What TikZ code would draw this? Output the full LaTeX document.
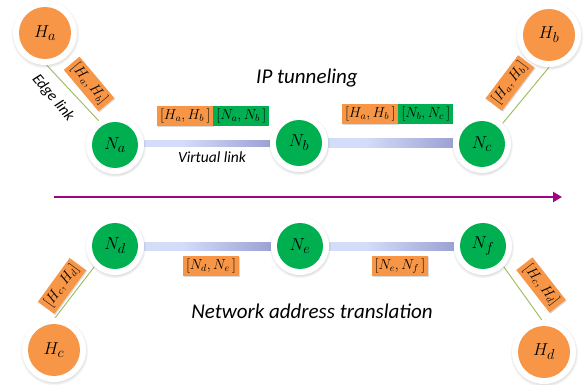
\documentclass[tikz,border=0pt]{standalone}
\usepackage{fontspec}
\setmainfont{Carlito}
\usetikzlibrary{shadows,arrows.meta,calc}
\definecolor{hor}{HTML}{F79646}
\definecolor{ngr}{HTML}{00B050}
\definecolor{elink}{HTML}{9BBB59}
\definecolor{arr}{HTML}{A0037F}
\definecolor{vg}{HTML}{98AE9E}
\definecolor{vl}{HTML}{D3DCF8}
\definecolor{vd}{HTML}{7478BA}
\pgfdeclarehorizontalshading{vlink}{100bp}{color(0bp)=(vg); color(18bp)=(vl); color(40bp)=(vl); color(100bp)=(vd)}
\pgfdeclarelayer{bg}
\pgfsetlayers{bg,main}
\tikzset{
  host/.style={circle, fill=white, minimum size=64pt, inner sep=0pt,
    circular drop shadow={shadow xshift=0pt, shadow yshift=-1pt, shadow scale=1.07, opacity=0.35},
    path picture={\fill[hor] (path picture bounding box.center) circle (26pt);},
    font=\fontsize{19}{21}\selectfont},
  router/.style={circle, fill=white, minimum size=58pt, inner sep=0pt,
    circular drop shadow={shadow xshift=0pt, shadow yshift=-1pt, shadow scale=1.07, opacity=0.35},
    path picture={\fill[ngr] (path picture bounding box.center) circle (23pt);},
    font=\fontsize{19}{21}\selectfont},
  tagbox/.style={inner xsep=3pt, inner ysep=2.5pt, outer sep=0pt, text height=11pt, text depth=4.5pt,
    font=\fontsize{14}{16}\selectfont},
  obox/.style={tagbox, fill=hor, drop shadow={shadow xshift=1pt, shadow yshift=-1pt, opacity=0.3}},
  gbox/.style={tagbox, fill=ngr},
  lbl/.style={font=\fontsize{21}{24}\selectfont\itshape, inner sep=0pt},
  smalllbl/.style={font=\fontsize{15.5}{18}\selectfont\itshape, inner sep=0pt},
  edgeline/.style={elink, line width=0.9pt},
  vbar/.style={shading=vlink}
}
\begin{document}
\begin{tikzpicture}[x=1pt,y=-1pt]
\useasboundingbox (0,0) rectangle (584,385);
% nodes
\node[host] (Ha) at (45,33) {$H_a$};
\node[host] (Hb) at (549,35) {$H_b$};
\node[host] (Hc) at (54,350) {$H_c$};
\node[host] (Hd) at (544,352) {$H_d$};
\node[router] (Na) at (115,145) {$N_a$};
\node[router] (Nb) at (299,143) {$N_b$};
\node[router] (Nc) at (482,144) {$N_c$};
\node[router] (Nd) at (115,246) {$N_d$};
\node[router] (Ne) at (300,246) {$N_e$};
\node[router] (Nf) at (483,246) {$N_f$};
% connectors
\begin{pgfonlayer}{bg}
\draw[edgeline] (Ha.-87) -- (Na.124);
\draw[edgeline] (Hb.-90) -- (Nc.45);
\draw[edgeline] (Nd.-135) -- (Hc.88);
\draw[edgeline] (Nf.-45) -- (Hd.94);
\shade[vbar] ([yshift=4pt]Na.east) rectangle ([yshift=-4pt]Nb.west);
\shade[vbar] ([yshift=4pt]Nb.east) rectangle ([yshift=-4pt]Nc.west);
\shade[vbar] ([yshift=4pt]Nd.east) rectangle ([yshift=-4pt]Ne.west);
\shade[vbar] ([yshift=4pt]Ne.east) rectangle ([yshift=-4pt]Nf.west);
\end{pgfonlayer}
% tags
\node[obox, anchor=west] (t1o) at (157,116) {$[H_a, H_b\,]$};
\node[gbox, anchor=west] (t1g) at (t1o.east) {$[N_a, N_b\,]$};
\node[obox, anchor=west] (t2o) at (342,114) {$[H_a, H_b\,]$};
\node[gbox, anchor=west] (t2g) at (t2o.east) {$[N_b, N_c\,]$};
\node[obox] (b1) at (211,266) {$[N_d, N_e\,]$};
\node[obox] (b2) at (400,266) {$[N_e, N_f\,]$};
\node[obox, rotate=-50] (la) at (89,84) {$[H_a, H_b]$};
\node[obox, rotate=53] (lb) at (510,83) {$[H_a, H_b]$};
\node[obox, rotate=54] (lc) at (62,286) {$[H_c, H_d]$};
\node[obox, rotate=-52] (ld) at (541,285) {$[H_c, H_d]$};
% texts
\node[lbl] (iptxt) at (307,78) {IP tunneling};
\node[smalllbl] (vltxt) at (212,157) {Virtual link};
\node[smalllbl, rotate=-50] (eltxt) at (53,98) {Edge link};
\node[lbl] (nattxt) at (312,311) {Network address translation};
% arrow
\coordinate (aL) at (54,197);
\coordinate (aR) at (562,197);
\draw[arr, line width=2.8pt, -{Triangle[length=9pt,width=10pt]}] (aL) -- (aR);
\end{tikzpicture}
\end{document}
